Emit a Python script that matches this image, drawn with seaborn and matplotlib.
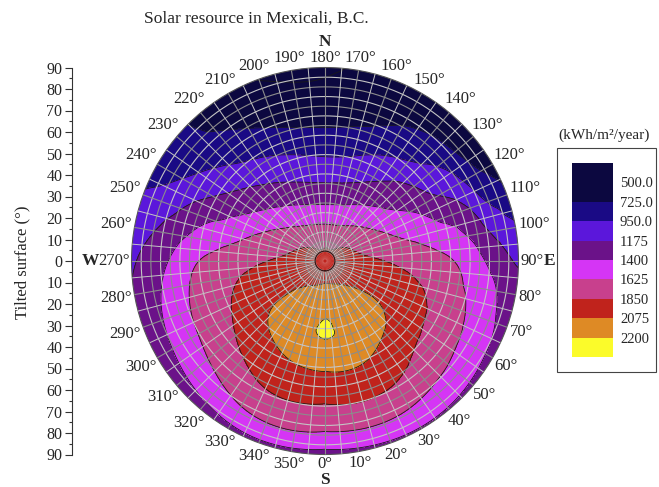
import numpy as np
import matplotlib
matplotlib.use("Agg")
import matplotlib.pyplot as plt
import matplotlib.tri as mtri
from matplotlib.patches import Rectangle
import seaborn as sns

# ---------------- data ----------------
azimuths = [0, 30, 60, 90, 120, 150, 180, 210, 240, 270, 300, 330]   # deg, 0 = S, 90 = E, 180 = N
tilts = [0, 10, 20, 30, 40, 50, 60, 70, 80, 90]                      # deg
# annual irradiation (kWh/m2/year) at each tilt, one list per azimuth
irr_az000 = [1935, 2072, 2168, 2207, 2182, 2090, 1960, 1790, 1610, 1320]
irr_az030 = [1935, 2050, 2137, 2157, 2135, 2050, 1930, 1780, 1605, 1380]
irr_az060 = [1935, 1990, 2030, 2040, 2000, 1900, 1760, 1650, 1510, 1330]
irr_az090 = [1935, 1912, 1882, 1838, 1770, 1700, 1625, 1480, 1300, 1150]
irr_az120 = [1935, 1875, 1740, 1600, 1460, 1350, 1185, 1050, 800, 620]
irr_az150 = [1935, 1790, 1605, 1405, 1215, 1065, 890, 755, 640, 560]
irr_az180 = [1935, 1780, 1555, 1310, 1103, 923, 757, 612, 530, 470]
irr_az210 = [1935, 1790, 1605, 1400, 1210, 1055, 880, 740, 640, 575]
irr_az240 = [1935, 1875, 1740, 1605, 1450, 1310, 1175, 1040, 915, 870]
irr_az270 = [1935, 1912, 1878, 1833, 1765, 1690, 1610, 1450, 1290, 1140]
irr_az300 = [1935, 1980, 2015, 2020, 1970, 1850, 1740, 1595, 1430, 1270]
irr_az330 = [1935, 2040, 2132, 2152, 2126, 2020, 1900, 1760, 1585, 1340]

levels = [0, 500, 725, 950, 1175, 1400, 1625, 1850, 2075, 2200, 3000]
level_labels = ["500.0", "725.0", "950.0", "1175", "1400", "1625", "1850", "2075", "2200"]
band_hex = ["#0c0840", "#0c0840", "#1a0a85", "#5b17db", "#6b1289",
            "#d535f5", "#c8408d", "#c0231c", "#de8a25", "#fbfb2a"]
az_ticks = list(range(0, 360, 10))
tilt_ticks = list(range(-90, 91, 10))

# ---------------- style ----------------
sns.set_theme(style="white")
plt.rcParams["font.family"] = ["Liberation Serif", "DejaVu Serif"]
band_colors = sns.color_palette(band_hex)

W, H = 659, 487
fig = plt.figure(figsize=(W / 100, H / 100), dpi=100)

# ---------------- field on (azimuth, tilt) mesh ----------------
Z = np.array([irr_az000, irr_az030, irr_az060, irr_az090, irr_az120, irr_az150,
              irr_az180, irr_az210, irr_az240, irr_az270, irr_az300, irr_az330], float)
az_ext = np.array(azimuths + [360], float)
Z_ext = np.vstack([Z, Z[:1]])
nA, nT = Z_ext.shape
AA, TT = np.meshgrid(az_ext, np.array(tilts, float), indexing="ij")
xs = (AA / 3.0).ravel()
ys = TT.ravel()
zs = Z_ext.ravel()
tris = []
for i in range(nA - 1):
    for j in range(nT - 1):
        a = i * nT + j
        b = (i + 1) * nT + j
        tris.append([a, b, b + 1])
        tris.append([a, b + 1, a + 1])
tri = mtri.Triangulation(xs, ys, np.array(tris))
interp = mtri.CubicTriInterpolator(tri, zs, kind="min_E")
tri_r, z_r = mtri.UniformTriRefiner(tri).refine_field(zs, triinterpolator=interp, subdiv=4)
tri_p = mtri.Triangulation(np.radians(tri_r.x * 3.0), tri_r.y, tri_r.triangles)

# ---------------- polar axes ----------------
cx, cy, R = 325.0, 261.0, 193.5
ax = fig.add_axes([(cx - R) / W, (H - cy - R) / H, 2 * R / W, 2 * R / H], projection="polar")
ax.set_theta_zero_location("S")
ax.set_theta_direction(1)
ax.set_ylim(0, 90)
ax.set_xticks([])
ax.set_yticks([])
ax.grid(False)

cf = ax.tricontourf(tri_p, z_r, levels=levels, colors=band_colors, zorder=1)
ax.tricontour(tri_p, z_r, levels=levels[1:-1], colors="#1a1a1a", linewidths=0.6, zorder=2)

# mesh lines
thc = np.linspace(0, 2 * np.pi, 361)
for k, r in enumerate(np.arange(4.5, 90, 4.5)):
    ax.plot(thc, np.full_like(thc, r), color="#8c8c8c" if k % 2 else "#c4c4c4",
            lw=0.8, zorder=3)
for a in range(0, 360, 5):
    th = np.radians(a)
    if a % 10 == 0:
        ax.plot([th, th], [0.8, 4.6], color="#e8b0b0", lw=0.35, alpha=0.35, zorder=3)
    ax.plot([th, th], [4.6, 90], color="#8c8c8c" if a % 10 == 0 else "#c4c4c4",
            lw=0.8 if a % 10 == 0 else 0.7, zorder=3)
ax.plot(thc, np.full_like(thc, 4.6), color="#3a1212", lw=0.9, zorder=4)
ax.spines["polar"].set_color("#555555")
ax.spines["polar"].set_linewidth(0.8)

# azimuth labels
for a in az_ticks:
    phi = np.radians(a - 90)
    w = 7.5 * len(str(a)) + 5
    h = 12
    d = 4 + 0.5 * abs(w * np.cos(phi)) + 0.5 * abs(h * np.sin(phi))
    ax.annotate(f"{a}°", xy=(np.radians(a), 90), xycoords="data",
                xytext=(d * np.cos(phi), d * np.sin(phi)), textcoords="offset pixels",
                ha="center", va="center", fontsize=12, annotation_clip=False)

compass = [("N", 180, 26, "center", "center"), ("S", 0, 18, "center", "top"),
           ("E", 90, 25, "left", "center"), ("W", 270, 32, "right", "center")]
for lab, a, d, ha, va in compass:
    phi = np.radians(a - 90)
    ax.annotate(lab, xy=(np.radians(a), 90), xycoords="data",
                xytext=(d * np.cos(phi), d * np.sin(phi)), textcoords="offset pixels",
                ha=ha, va=va, fontsize=12.5, fontweight="bold", annotation_clip=False)

# ---------------- tilt axis on the left ----------------
lax = fig.add_axes([72 / W, (H - 454.5) / H, 0.0001, 387 / H])
lax.set_facecolor("none")
lax.set_ylim(-90, 90)
for s in ["top", "right", "bottom"]:
    lax.spines[s].set_visible(False)
lax.spines["left"].set_color("#333333")
lax.spines["left"].set_linewidth(0.8)
lax.xaxis.set_visible(False)
lax.set_yticks(tilt_ticks)
lax.set_yticklabels([str(abs(v)) for v in tilt_ticks])
lax.set_yticks(list(range(-85, 90, 10)), minor=True)
lax.tick_params(axis="y", which="major", direction="out", length=5, width=0.8,
                color="#333333", labelsize=11.5, pad=2, left=True)
lax.tick_params(axis="y", which="minor", direction="out", length=2.5, width=0.8,
                color="#333333", left=True)
lax.set_ylabel("Tilted surface (°)", fontsize=12)
lax.yaxis.set_label_coords(30 / W, 1 - 262 / H, transform=fig.transFigure)

# ---------------- colour legend ----------------
cax = fig.add_axes([572 / W, (H - 357) / H, 41 / W, 194 / H])
cb = fig.colorbar(cf, cax=cax, ticks=levels[1:-1], spacing="uniform")
cb.ax.set_yticklabels(level_labels)
cb.ax.invert_yaxis()
cb.ax.tick_params(length=0, pad=5, labelsize=10.5)
cb.outline.set_visible(False)
fig.patches.append(Rectangle((557 / W, (H - 372) / H), 99 / W, 224 / H,
                             transform=fig.transFigure, fill=False,
                             edgecolor="#444444", lw=0.8))
fig.text(604 / W, 1 - 135 / H, "(kWh/m²/year)", ha="center", va="center", fontsize=11)

fig.text(256 / W, 1 - 19 / H, "Solar resource in Mexicali, B.C.", ha="center",
         va="center", fontsize=12.5)

fig.savefig("out.png", dpi=100)
